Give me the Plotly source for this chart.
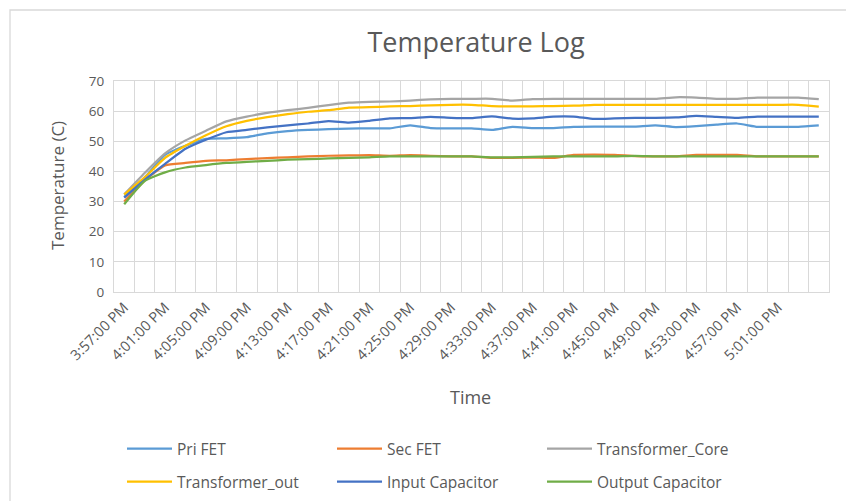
import plotly.graph_objects as go
from datetime import datetime, timedelta

# ---- data ----
start = datetime(2024, 1, 1, 15, 57, 0)
times = [start + timedelta(minutes=2 * i) for i in range(35)]

pri_fet = [31.5, 38.0, 45.5, 48.5, 50.8, 51.0, 51.4, 52.6, 53.4, 53.8, 54.0, 54.2, 54.3, 54.3, 55.3,
           54.4, 54.3, 54.3, 53.8, 54.8, 54.4, 54.4, 54.8, 54.9, 54.9, 54.9, 55.3, 54.7, 55.0, 55.5,
           55.9, 54.8, 54.8, 54.8, 55.3]
sec_fet = [30.0, 37.0, 42.0, 42.8, 43.5, 43.7, 44.1, 44.4, 44.7, 45.0, 45.2, 45.3, 45.4, 45.2, 45.4,
           45.2, 45.0, 45.0, 44.5, 44.5, 44.6, 44.5, 45.5, 45.6, 45.5, 45.1, 45.0, 45.0, 45.5, 45.5,
           45.5, 45.0, 45.0, 45.0, 45.0]
transformer_core = [32.4, 39.5, 46.0, 50.3, 53.5, 56.6, 58.2, 59.4, 60.3, 61.1, 62.0, 62.8, 63.1, 63.2, 63.5,
                    63.9, 64.1, 64.1, 64.1, 63.5, 64.0, 64.1, 64.1, 64.1, 64.1, 64.1, 64.1, 64.6, 64.5, 64.1,
                    64.1, 64.5, 64.5, 64.5, 64.0]
transformer_out = [32.3, 38.0, 44.5, 48.5, 52.0, 55.0, 56.8, 58.0, 59.0, 59.8, 60.3, 61.2, 61.3, 61.6, 61.7,
                   61.9, 62.1, 62.1, 61.7, 61.6, 61.6, 61.7, 61.8, 62.1, 62.1, 62.1, 62.1, 62.1, 62.1, 62.1,
                   62.1, 62.1, 62.1, 62.1, 61.5]
input_cap = [31.3, 37.2, 42.5, 47.5, 50.5, 53.0, 53.8, 54.6, 55.3, 55.9, 56.7, 56.2, 56.8, 57.6, 57.7,
             58.1, 57.8, 57.7, 58.3, 57.5, 57.6, 58.2, 58.2, 57.4, 57.6, 57.8, 57.8, 57.9, 58.4, 58.1,
             57.8, 58.2, 58.2, 58.2, 58.2]
output_cap = [29.1, 36.8, 39.7, 41.3, 42.1, 42.8, 43.2, 43.5, 43.9, 44.1, 44.3, 44.5, 44.7, 45.0, 45.0,
              45.0, 45.0, 45.0, 44.7, 44.7, 44.8, 45.0, 45.0, 45.0, 45.0, 45.2, 45.0, 45.0, 45.0, 45.0,
              45.0, 45.0, 45.0, 45.0, 45.0]

series = [
    ("Pri FET", pri_fet, "#5B9BD5", "legend"),
    ("Sec FET", sec_fet, "#ED7D31", "legend"),
    ("Transformer_Core", transformer_core, "#A5A5A5", "legend"),
    ("Transformer_out", transformer_out, "#FFC000", "legend2"),
    ("Input Capacitor", input_cap, "#4472C4", "legend2"),
    ("Output Capacitor", output_cap, "#70AD47", "legend2"),
]

tick_times = times[0:33:2]
tick_text = [t.strftime("%I:%M:%S %p").lstrip("0") for t in tick_times]

TXT = "#595959"
GRID = "#D9D9D9"
FONT = "Open Sans"

fig = go.Figure()
for name, vals, color, lg in series:
    fig.add_trace(go.Scatter(
        x=times, y=vals, name=name, mode="lines",
        line=dict(color=color, width=2.25, shape="spline", smoothing=0.5),
        legend=lg,
    ))

W, H = 846, 501
L, R, T, B = 114, 17, 81, 209
pw, ph = W - L - R, H - T - B

def px_x(p):
    return (p - L) / pw

def px_y(p):
    return (H - B - p) / ph

legend_common = dict(orientation="h", x=px_x(122), xanchor="left", yanchor="middle",
                     entrywidth=150, entrywidthmode="pixels", itemwidth=45,
                     font=dict(size=15.5, color=TXT), bgcolor="rgba(0,0,0,0)")

fig.update_layout(
    width=W, height=H,
    margin=dict(l=L, r=R, t=T, b=B, autoexpand=False),
    paper_bgcolor="white", plot_bgcolor="white",
    font=dict(family=FONT, color=TXT),
    title=dict(text="Temperature Log", x=476 / W, xanchor="center",
               y=1 - 43 / H, yanchor="middle",
               font=dict(size=27, color=TXT, family=FONT)),
    xaxis=dict(
        type="date",
        range=[start - timedelta(minutes=1), times[-1] + timedelta(minutes=1)],
        tickvals=tick_times, ticktext=tick_text, tickangle=-45,
        tickfont=dict(size=14.5, color=TXT),
        showgrid=False, ticks="", automargin=False,
        minor=dict(showgrid=True, gridcolor=GRID, gridwidth=1.3,
                   tick0=start - timedelta(minutes=1), dtick=120000),
        showline=True, linecolor=GRID, linewidth=1.3, mirror=True,
        zeroline=False,
    ),
    yaxis=dict(
        range=[0, 70], dtick=10, tickfont=dict(size=13.5, color=TXT),
        showgrid=True, gridcolor=GRID, gridwidth=1.3,
        showline=True, linecolor=GRID, linewidth=1.3, mirror=True,
        zeroline=False, ticks="", ticklabelstandoff=6, automargin=False,
    ),
    legend=dict(y=px_y(449), **legend_common),
    legend2=dict(y=px_y(482), **legend_common),
    annotations=[
        dict(text="Temperature (C)", xref="paper", yref="paper",
             x=px_x(57), y=px_y(186), xanchor="center", yanchor="middle",
             textangle=-90, showarrow=False, font=dict(size=17, color=TXT)),
        dict(text="Time", xref="paper", yref="paper",
             x=px_x(470), y=px_y(397), xanchor="center", yanchor="middle",
             showarrow=False, font=dict(size=18, color=TXT)),
    ],
    shapes=[
        dict(type="rect", xref="paper", yref="paper",
             x0=px_x(10), x1=px_x(860), y0=px_y(520), y1=px_y(10),
             line=dict(color=GRID, width=1.3), fillcolor="rgba(0,0,0,0)", layer="below"),
    ],
)

fig.write_html("out.html")
